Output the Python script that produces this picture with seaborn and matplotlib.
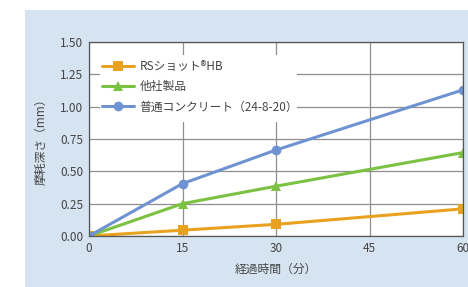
import matplotlib
matplotlib.use("Agg")
import matplotlib.pyplot as plt
import seaborn as sns
import pandas as pd
from matplotlib.patches import Rectangle

minutes = [0, 15, 30, 60]
series_names = ["RSショット®HB", "他社製品", "普通コンクリート（24-8-20）"]
rs_values = [0.0, 0.045, 0.09, 0.21]
other_values = [0.0, 0.25, 0.385, 0.645]
normal_values = [0.0, 0.405, 0.665, 1.13]
x_ticks = [0, 15, 30, 45, 60]
y_ticks = [0.0, 0.25, 0.5, 0.75, 1.0, 1.25, 1.5]
x_label = "経過時間（分）"
y_label = "摩耗深さ（mm）"

colors = ["#E9A21F", "#7CC242", "#6F93D2"]
markers = ["s", "^", "o"]

rows = []
for name, vals in zip(series_names, [rs_values, other_values, normal_values]):
    for m, v in zip(minutes, vals):
        rows.append({"t": m, "v": v, "s": name})
df = pd.DataFrame(rows)

sns.set_theme(style="white")
plt.rcParams['font.family'] = ['Noto Sans CJK JP', 'DejaVu Sans']

fig = plt.figure(figsize=(4.68, 2.87), dpi=100)
fig.patch.set_facecolor("white")
fig.patches.append(Rectangle((25/468, 0), 1 - 25/468, 1 - 10/287,
                             transform=fig.transFigure, facecolor="#D6E4F1",
                             edgecolor="none", zorder=-10))

ax = fig.add_axes([89/468, 1 - 236/287, (463 - 89)/468, (236 - 42)/287])
ax.set_zorder(1)
ax.set_facecolor("white")

# white box behind the legend, masking the grid
ax.add_patch(Rectangle((11/374, (236 - 122)/194), (297 - 100)/374, (122 - 55)/194,
                       transform=ax.transAxes, facecolor="white",
                       edgecolor="none", zorder=1.5))

sns.lineplot(data=df, x="t", y="v", hue="s", style="s",
             palette=dict(zip(series_names, colors)),
             markers=dict(zip(series_names, markers)),
             dashes=False, linewidth=2.2, markersize=7,
             markeredgewidth=0, ax=ax, zorder=3)

ax.set_xlim(0, 60)
ax.set_ylim(0, 1.5)
ax.set_xticks(x_ticks)
ax.set_yticks(y_ticks)
ax.set_yticklabels([f"{y:.2f}" for y in y_ticks])
ax.grid(True, color="#8F8F8F", linewidth=0.9)
ax.set_axisbelow(True)
for sp in ax.spines.values():
    sp.set_color("#555555")
    sp.set_linewidth(0.9)
    sp.set_zorder(4)
ax.tick_params(axis="both", length=0, labelsize=8.5, colors="#444444", pad=4)
ax.set_xlabel(x_label, fontsize=8.5, color="#444444", labelpad=6)
ax.set_ylabel(y_label, fontsize=8.5, color="#444444", labelpad=9)

leg = ax.legend(loc="upper left", bbox_to_anchor=(0.028, 0.92), frameon=False,
                fontsize=8.5, handlelength=2.7, handletextpad=0.5,
                borderaxespad=0.0, labelspacing=0.62, borderpad=0.2)
for t in leg.get_texts():
    t.set_color("#444444")
leg.set_zorder(5)

fig.savefig("out.png", dpi=100)
